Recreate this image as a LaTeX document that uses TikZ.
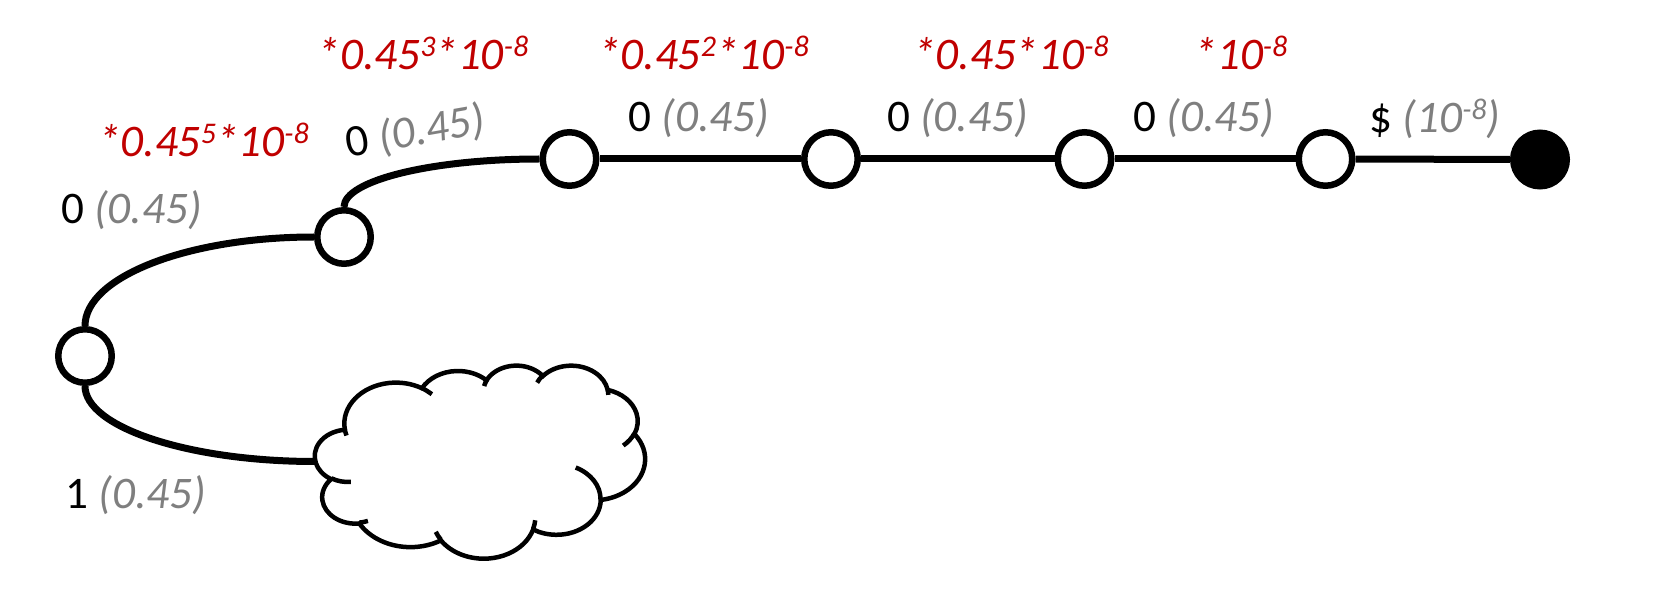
\documentclass[tikz,border=0pt]{standalone}
\usepackage{fontspec}
\setmainfont{Carlito}
\definecolor{dred}{HTML}{C00000}
\definecolor{lgray}{HTML}{7F7F7F}
\newcommand\sps[1]{\raisebox{0.3em}{\fontsize{15}{15}\selectfont #1}}
\newcommand\cloudarcdef[5]{%
  \pgfmathsetmacro\cloudta{atan2((#2)*sin(#4),(#3)*cos(#4))}%
  \pgfmathsetmacro\cloudtb{atan2((#2)*sin((#4)+(#5)),(#3)*cos((#4)+(#5)))}%
  \pgfmathsetmacro\cloudtb{\cloudtb<\cloudta ? \cloudtb+360 : \cloudtb}%
  \edef\cloudtmp{\noexpand\tikzset{ca#1/.style={x radius=#2,y radius=#3,start angle=\cloudta,end angle=\cloudtb}}}%
  \cloudtmp}
\tikzset{
  vtx/.style={circle, draw=black, fill=white, line width=3.25pt, minimum size=26.75pt, inner sep=0pt},
  edge/.style={line width=3.5pt},
  cloudline/.style={line width=2.25pt},
  lbl/.style={anchor=base, inner sep=0pt, font=\fontsize{22.6}{27}\selectfont},
  rlbl/.style={lbl, text=dred, font=\fontsize{22.6}{27}\selectfont\itshape},
}
\begin{document}
\begin{tikzpicture}[x=0.5pt,y=-0.5pt]
\useasboundingbox (0,0) rectangle (1661,609);
% cloud arc parameters (Office cloud, path space / 100)
\cloudarcdef{1}{67.53}{91.90}{-190.48748}{123.78053}
\cloudarcdef{2}{53.33}{72.67}{-144.10238}{89.94523}
\cloudarcdef{3}{43.65}{59.45}{-145.80792}{99.72302}
\cloudarcdef{4}{48.57}{65.95}{-130.98607}{117.24173}
\cloudarcdef{5}{53.33}{72.73}{-78.70888}{109.02692}
\cloudarcdef{6}{67.75}{92.20}{-46.26725}{130.26900}
\cloudarcdef{7}{57.85}{78.67}{0.62502}{114.03333}
\cloudarcdef{8}{67.52}{92.15}{22.45160}{115.17255}
\cloudarcdef{9}{77.20}{105.43}{66.24263}{75.71102}
\cloudarcdef{10}{43.60}{59.18}{-274.94208}{146.73557}
\cloudarcdef{11}{43.45}{59.45}{-246.82850}{152.51885}
\cloudarcdef{a}{43.45}{59.45}{86.74200}{26.42950}
\cloudarcdef{b}{43.60}{59.18}{73.61047}{11.44747}
\cloudarcdef{c}{67.52}{92.15}{137.62415}{14.08110}
\cloudarcdef{d}{67.52}{92.15}{6.45327}{15.99835}
\cloudarcdef{e}{57.85}{78.67}{-70.29235}{70.91737}
\cloudarcdef{f}{53.33}{72.73}{30.31803}{27.75150}
\cloudarcdef{g}{48.57}{65.95}{-13.74433}{14.85890}
\cloudarcdef{h}{48.57}{65.95}{-149.18145}{18.19537}
\cloudarcdef{i}{43.65}{59.45}{-163.49427}{17.68635}
\cloudarcdef{j}{67.53}{91.90}{-66.70695}{12.31935}
\cloudarcdef{k}{67.53}{91.90}{157.65435}{11.85817}
% nodes
\node[vtx] (A) at (85,356) {};
\node[vtx] (B) at (344,237) {};
\node[vtx] (C) at (569.5,159) {};
\node[vtx] (D) at (831,159) {};
\node[vtx] (E) at (1084.5,159) {};
\node[vtx] (F) at (1325.5,159) {};
\node[vtx, fill=black] (G) at (1540,159.5) {};
\node[minimum width=165pt, minimum height=96.5pt, inner sep=0pt, outer sep=0pt] (cloud) at (480,461.5) {};
% edges
\draw[edge] (A.north) .. controls +(0,-49) and +(-126.5,0) .. (B.west);
\draw[edge] (B.north) .. controls +(0,-26.5) and +(-108,0) .. (C.west);
\draw[edge] (C) -- (D);
\draw[edge] (D) -- (E);
\draw[edge] (E) -- (F);
\draw[edge] (F) -- (G);
\draw[edge] (A.south) .. controls +(0,41) and +(-127,0) .. (cloud.west);
% cloud
\begin{scope}[shift={(cloud.north west)}, x=0.38194pt, y=-0.22338pt]
\filldraw[cloudline, fill=white] (39,143.7) arc[ca1] arc[ca2] arc[ca3] arc[ca4] arc[ca5] arc[ca6]
  arc[ca7] arc[ca8] arc[ca9] arc[ca10] arc[ca11] -- cycle;
\draw[cloudline] (46.93,261.77) arc[caa] (69.28,348.99) arc[cab] (164.78,390.90) arc[cac]
  (288.27,347.51) arc[cad] (341.29,229.54) arc[cae] (417.98,153.54) arc[caf]
  (383.24,54.26) arc[cag] (290.78,39.52) arc[cah] (221.41,47.20) arc[cai]
  (140.00,51.92) arc[caj] (41.27,157.89) arc[cak];
\end{scope}
% edge labels
\node[lbl] (lAB) at (131.5,224) {0 {\color{lgray}\itshape (0.45)}};
\node[lbl, anchor=base west, rotate=10] (lBC) at (348,158) {0 {\color{lgray}\itshape (0.45)}};
\node[lbl] (lCD) at (699,132) {0 {\color{lgray}\itshape (0.45)}};
\node[lbl] (lDE) at (957.5,132) {0 {\color{lgray}\itshape (0.45)}};
\node[lbl] (lEF) at (1204,132) {0 {\color{lgray}\itshape (0.45)}};
\node[lbl] (lFG) at (1435,133) {\$ {\color{lgray}\itshape (10\sps{-8})}};
\node[lbl] (lAc) at (136,508) {1 {\color{lgray}\itshape (0.45)}};
% red labels
\node[rlbl] (r5) at (203.5,157) {*0.45\sps{5}*10\sps{-8}};
\node[rlbl] (r3) at (423,70) {*0.45\sps{3}*10\sps{-8}};
\node[rlbl] (r2) at (703.5,70) {*0.45\sps{2}*10\sps{-8}};
\node[rlbl] (r1) at (1011,70) {*0.45*10\sps{-8}};
\node[rlbl] (r0) at (1241,70) {*10\sps{-8}};
\end{tikzpicture}
\end{document}
